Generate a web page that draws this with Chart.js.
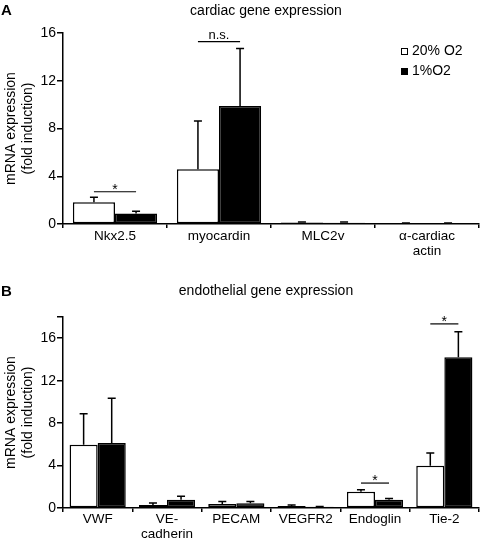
<!DOCTYPE html>
<html>
<head>
<meta charset="utf-8">
<script src="https://cdn.jsdelivr.net/npm/chart.js@4.4.1/dist/chart.umd.min.js"></script>
<style>
  body { margin: 0; background: #fff; }
  #wrap { position: relative; width: 480px; height: 545px; }
  canvas { position: absolute; left: 0; }
  #chartA { top: 0; }
  #chartB { top: 270px; }
</style>
</head>
<body>
<div id="wrap">
  <canvas id="chartA" width="480" height="270"></canvas>
  <canvas id="chartB" width="480" height="275"></canvas>
</div>
<script>
// panel A - cardiac genes
const cardiacGenes = ["Nkx2.5", "myocardin", "MLC2v", ["α-cardiac", "actin"]];
const cardiacNormoxia = [1.82, 4.58, 0.12, 0.06];
const cardiacNormoxiaErr = [0.42, 4.05, 0.05, 0.03];
const cardiacHypoxia = [0.87, 9.88, 0.11, 0.05];
const cardiacHypoxiaErr = [0.19, 4.82, 0.05, 0.03];
const cardiacTicks = [0, 4, 8, 12, 16];
// significance marks: category index, line height (data units), label
const cardiacSig = [
  { index: 0, y: 2.7, label: "*" },
  { index: 1, y: 15.27, label: "n.s." },
];

// panel B - endothelial genes
const endoGenes = ["VWF", ["VE-", "cadherin"], "PECAM", "VEGFR2", "Endoglin", "Tie-2"];
const endoNormoxia = [5.96, 0.28, 0.38, 0.2, 1.53, 3.98];
const endoNormoxiaErr = [2.92, 0.19, 0.24, 0.08, 0.19, 1.2];
const endoHypoxia = [6.12, 0.78, 0.45, 0.12, 0.78, 14.2];
const endoHypoxiaErr = [4.23, 0.32, 0.17, 0.03, 0.12, 2.4];
const endoTicks = [0, 4, 8, 12, 16];
const endoSig = [
  { index: 4, y: 2.35, label: "*" },
  { index: 5, y: 17.35, label: "*" },
];

const seriesNames = ["20% O2", "1%O2"];

Chart.defaults.font.family = "'Liberation Sans', Arial, sans-serif";
Chart.defaults.color = "#000";

//one-sided error bars with cap
const errorBars = {
  id: "errorBars",
  afterDatasetsDraw(chart) {
    const ctx = chart.ctx;
    const yScale = chart.scales.y;
    ctx.save();
    ctx.strokeStyle = "#000";
    ctx.lineWidth = 1.5;
    chart.data.datasets.forEach((ds, di) => {
      const meta = chart.getDatasetMeta(di);
      meta.data.forEach((bar, i) => {
        const top = yScale.getPixelForValue(ds.data[i] + ds.errors[i]);
        ctx.beginPath();
        ctx.moveTo(bar.x, bar.y);
        ctx.lineTo(bar.x, top);
        ctx.moveTo(bar.x - 4, top);
        ctx.lineTo(bar.x + 4, top);
        ctx.stroke();
      });
    });
    ctx.restore();
  },
};

//significance lines between the two bars of a group
const sigMarks = {
  id: "sigMarks",
  afterDatasetsDraw(chart, args, opts) {
    const ctx = chart.ctx;
    const yScale = chart.scales.y;
    ctx.save();
    ctx.strokeStyle = "#000";
    ctx.fillStyle = "#000";
    ctx.lineWidth = 1.2;
    ctx.textAlign = "center";
    ctx.textBaseline = "alphabetic";
    (opts.marks || []).forEach((m) => {
      const x1 = chart.getDatasetMeta(0).data[m.index].x;
      const x2 = chart.getDatasetMeta(1).data[m.index].x;
      const y = yScale.getPixelForValue(m.y);
      ctx.beginPath();
      ctx.moveTo(x1, y);
      ctx.lineTo(x2, y);
      ctx.stroke();
      if (m.label === "*") {
        ctx.font = "14px 'Liberation Sans', Arial";
        ctx.fillText(m.label, (x1 + x2) / 2, y + 2);
      } else {
        ctx.font = "13px 'Liberation Sans', Arial";
        ctx.fillText(m.label, (x1 + x2) / 2, y - 3);
      }
    });
    ctx.restore();
  },
};

//panel letter and title
const panelText = {
  id: "panelText",
  afterDraw(chart, args, opts) {
    const ctx = chart.ctx;
    const area = chart.chartArea;
    ctx.save();
    ctx.fillStyle = "#000";
    ctx.textBaseline = "alphabetic";
    ctx.font = "bold 15px 'Liberation Sans', Arial";
    ctx.textAlign = "left";
    ctx.fillText(opts.letter, 1, opts.letterY);
    ctx.font = "14px 'Liberation Sans', Arial";
    ctx.textAlign = "center";
    ctx.fillText(opts.title, (area.left + area.right) / 2 - 5, opts.titleY);
    ctx.restore();
  },
};

//legend box top right
const boxLegend = {
  id: "boxLegend",
  afterDraw(chart, args, opts) {
    if (!opts.show) return;
    const ctx = chart.ctx;
    ctx.save();
    ctx.font = "14px 'Liberation Sans', Arial";
    ctx.textBaseline = "middle";
    ctx.textAlign = "left";
    chart.data.datasets.forEach((ds, i) => {
      const y = opts.y + i * 20;
      ctx.fillStyle = ds.backgroundColor;
      ctx.fillRect(opts.x, y - 3, 6, 6);
      ctx.strokeStyle = "#000";
      ctx.lineWidth = 1;
      ctx.strokeRect(opts.x + 0.5, y - 2.5, 6, 6);
      ctx.fillStyle = "#000";
      ctx.fillText(ds.label, opts.x + 11, y + 0.5);
    });
    ctx.restore();
  },
};

function makeChart(id, cfg) {
  return new Chart(document.getElementById(id), {
    type: "bar",
    data: {
      labels: cfg.labels,
      datasets: [
        {
          label: seriesNames[0],
          data: cfg.normoxia,
          errors: cfg.normoxiaErr,
          backgroundColor: "#ffffff",
          borderColor: "#000",
          borderWidth: 1.5,
          borderSkipped: false,
        },
        {
          label: seriesNames[1],
          data: cfg.hypoxia,
          errors: cfg.hypoxiaErr,
          backgroundColor: "#000000",
          borderColor: "#000",
          borderWidth: 1.5,
          borderSkipped: false,
        },
      ],
    },
    options: {
      responsive: false,
      animation: false,
      devicePixelRatio: 1,
      layout: { padding: { top: cfg.padTop, right: 1, left: 0, bottom: 0 } },
      datasets: { bar: { categoryPercentage: 0.81, barPercentage: 1 } },
      plugins: {
        legend: { display: false },
        tooltip: { enabled: false },
        sigMarks: { marks: cfg.sig },
        panelText: { letter: cfg.letter, letterY: cfg.letterY, title: cfg.title, titleY: cfg.titleY },
        boxLegend: { show: cfg.legend, x: 401, y: 51 },
      },
      scales: {
        x: {
          border: { color: "#000", width: 1.5 },
          grid: { display: true, drawOnChartArea: false, color: "#000", lineWidth: 1.5, tickLength: 4, offset: true },
          ticks: { font: { size: 13.5, lineHeight: 1.12 }, maxRotation: 0, autoSkip: false, padding: cfg.xPad },
          afterFit: (s) => { s.height = cfg.xHeight; },
        },
        y: {
          min: 0,
          max: cfg.max,
          border: { color: "#000", width: 1.5 },
          grid: { display: true, drawOnChartArea: false, color: "#000", lineWidth: 1.5, tickLength: 6 },
          ticks: {
            stepSize: 4,
            padding: 1,
            font: { size: 14 },
            callback: (v) => (cfg.ticks.includes(v) ? v : ""),
          },
          title: {
            display: true,
            text: ["mRNA expression", "(fold induction)"],
            font: { size: 14, lineHeight: 1.25 },
            padding: { top: 2, bottom: 0 },
          },
          afterFit: (s) => { s.width = 63; },
        },
      },
    },
    plugins: [errorBars, sigMarks, panelText, boxLegend],
  });
}

makeChart("chartA", {
  labels: cardiacGenes,
  normoxia: cardiacNormoxia,
  normoxiaErr: cardiacNormoxiaErr,
  hypoxia: cardiacHypoxia,
  hypoxiaErr: cardiacHypoxiaErr,
  ticks: cardiacTicks,
  sig: cardiacSig,
  max: 16,
  padTop: 33,
  xHeight: 46,
  xPad: 1,
  letter: "A",
  letterY: 15,
  title: "cardiac gene expression",
  titleY: 15,
  legend: true,
});

makeChart("chartB", {
  labels: endoGenes,
  normoxia: endoNormoxia,
  normoxiaErr: endoNormoxiaErr,
  hypoxia: endoHypoxia,
  hypoxiaErr: endoHypoxiaErr,
  ticks: endoTicks,
  sig: endoSig,
  max: 18,
  padTop: 47,
  xHeight: 37,
  xPad: 0,
  letter: "B",
  letterY: 26,
  title: "endothelial gene expression",
  titleY: 25,
  legend: false,
});
</script>
</body>
</html>
